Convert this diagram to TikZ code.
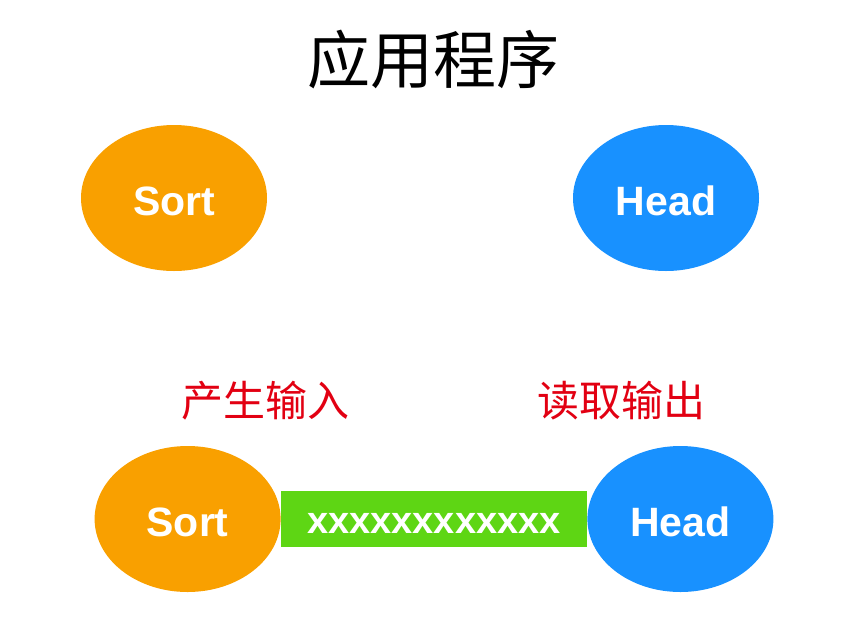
\documentclass[tikz,border=0pt]{standalone}
\usepackage{fontspec}
\setmainfont{Liberation Sans}
\newfontfamily\cjk{Noto Sans CJK SC}
\usetikzlibrary{shapes.geometric}
\usetikzlibrary{backgrounds}
\definecolor{sortorange}{RGB}{249,160,0}
\definecolor{headblue}{RGB}{24,145,255}
\definecolor{pipegreen}{RGB}{94,214,20}
\definecolor{labelred}{RGB}{226,0,18}

\tikzset{
  proc/.style={ellipse, minimum width=186pt, minimum height=146pt, inner sep=0pt,
    text=white, font=\fontsize{41}{41}\selectfont\bfseries, text depth=0pt, text height=35pt},
  pipebox/.style={rectangle, fill=pipegreen, minimum width=306pt, minimum height=56pt,
    inner sep=0pt, text=white, font=\fontsize{38}{38}\selectfont\bfseries,
    text depth=0pt, text height=28pt},
  redlabel/.style={text=labelred, font=\cjk\fontsize{42}{42}\selectfont},
}

\begin{document}
\begin{tikzpicture}[x=1pt,y=-1pt]
\useasboundingbox (0,0) rectangle (848,638);

% title
\node[font=\cjk\fontsize{63}{63}\selectfont] (title) at (433,60) {应用程序};

% top row
\node[proc, fill=sortorange] (sortA) at (174,198) {Sort};
\node[proc, fill=headblue] (headA) at (666,198) {Head};

% bottom row
\node[redlabel] (inLabel) at (265,401) {产生输入};
\node[redlabel] (outLabel) at (621,401) {读取输出};
\node[pipebox] (pipe) at (434,519) {xxxxxxxxxxxx};
\node[proc, fill=sortorange, anchor=east] (sortB) at (pipe.west) {Sort};
\node[proc, fill=headblue, anchor=west] (headB) at (pipe.east) {Head};
\end{tikzpicture}
\end{document}
